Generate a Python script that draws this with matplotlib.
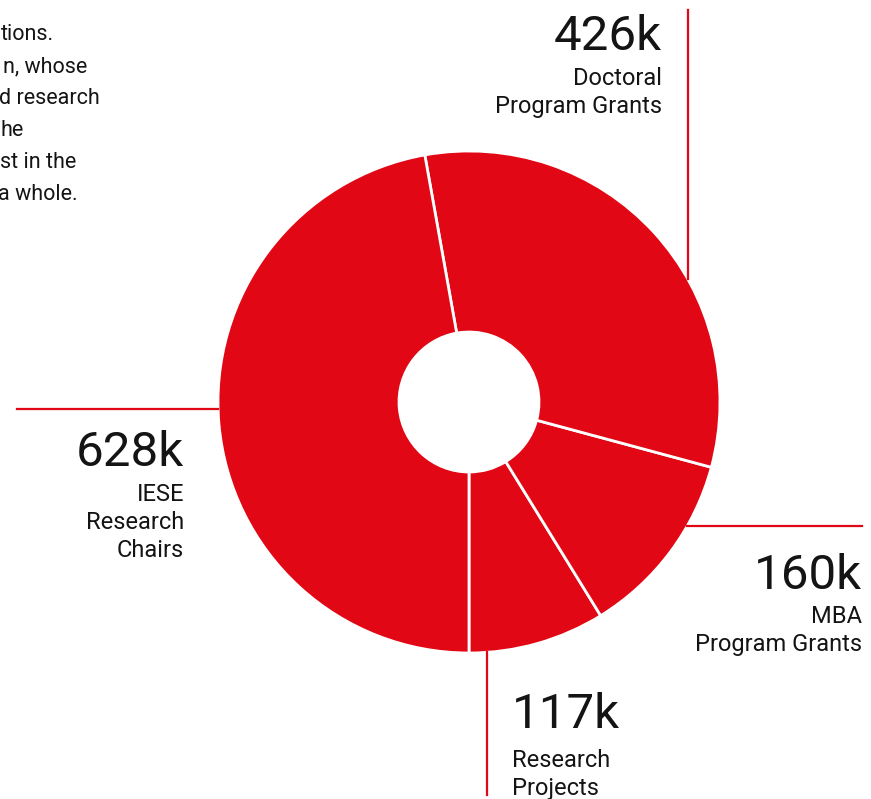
import numpy as np
import matplotlib
matplotlib.use("Agg")
import matplotlib.pyplot as plt

# data (thousands)
categories = ["Research\nProjects", "MBA\nProgram Grants", "Doctoral\nProgram Grants", "IESE\nResearch\nChairs"]
values = [117, 160, 426, 628]
value_labels = ["117k", "160k", "426k", "628k"]

intro_lines = ["tions.", "n, whose", "d research", "he", "st in the", "a whole."]

RED = "#E20714"
INK = "#141414"
W, H = 871, 799

plt.rcParams["font.family"] = ["Roboto", "DejaVu Sans"]

fig = plt.figure(figsize=(W / 100, H / 100), dpi=100)
ax = fig.add_axes([0, 0, 1, 1])

# pixel helper: y measured from the top of the picture
def py(y):
    return H - y

cx, cy = 469, py(402)
r_out, r_in = 251, 70

ax.pie(values, center=(cx, cy), radius=r_out, startangle=270, counterclock=True,
       colors=[RED] * len(values),
       wedgeprops=dict(width=r_out - r_in, edgecolor="white", linewidth=2))

ax.set_xlim(0, W)
ax.set_ylim(0, H)
ax.set_aspect("equal")
ax.axis("off")

# leader lines, each ending at the ring edge
def edge_y(x, upper):
    d = np.sqrt(r_out ** 2 - (x - cx) ** 2)
    return cy + d if upper else cy - d

def edge_x(y, right):
    d = np.sqrt(r_out ** 2 - (y - cy) ** 2)
    return cx + d if right else cx - d

lw = 1.6
ax.plot([688, 688], [py(10), edge_y(688, True)], color=RED, lw=lw)          # doctoral
ax.plot([17, edge_x(py(409), False)], [py(409), py(409)], color=RED, lw=lw)  # chairs
ax.plot([edge_x(py(526), True), 862], [py(526), py(526)], color=RED, lw=lw)  # mba
ax.plot([487, 487], [edge_y(487, False), py(795)], color=RED, lw=lw)        # research

big = 35.5
small = 17
lead = 28

def label(x, y_num, y_first, ha, num, text):
    ax.text(x, py(y_num), num, ha=ha, va="baseline", fontsize=big, color=INK)
    for i, line in enumerate(text.split("\n")):
        ax.text(x, py(y_first + i * lead), line, ha=ha, va="baseline",
                fontsize=small, color=INK)

label(512, 728, 767, "left", value_labels[0], categories[0])
label(862, 589, 623, "right", value_labels[1], categories[1])
label(662, 50, 85, "right", value_labels[2], categories[2])
label(184, 466, 501, "right", value_labels[3], categories[3])

# intro paragraph, cut by the left edge in the source
intro_right = [54, 87, 100, 24, 76, 78]
for i, (line, xr) in enumerate(zip(intro_lines, intro_right)):
    ax.text(xr, py(40 + i * 32), line, ha="right", va="baseline",
            fontsize=15.5, color=INK)

fig.savefig("out.png", dpi=100)
